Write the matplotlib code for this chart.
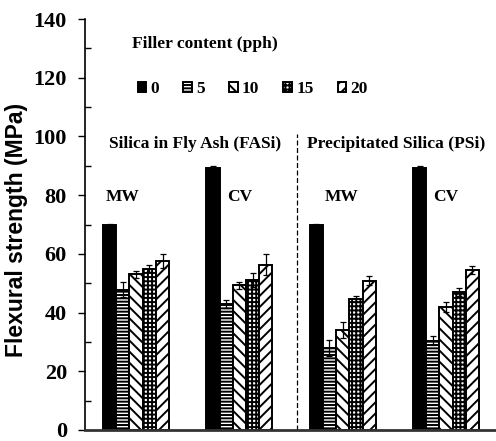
import matplotlib
matplotlib.use("Agg")
import matplotlib.pyplot as plt
import numpy as np

# Flexural strength (MPa) per filler loading, for each silica type / cure
fillers = ["0", "5", "10", "15", "20"]
groups = ["MW", "CV", "MW", "CV"]
strength = [
    [69.7, 47.8, 53.1, 55.0, 57.6],   # FASi, MW
    [89.4, 43.0, 49.3, 51.2, 56.3],   # FASi, CV
    [69.7, 28.0, 34.2, 44.7, 50.9],   # PSi, MW
    [89.4, 30.4, 41.9, 47.0, 54.4],   # PSi, CV
]
errors = [
    [0.6, 2.5, 1.2, 1.2, 2.3],
    [0.5, 1.3, 1.2, 2.4, 3.5],
    [0.6, 2.7, 2.7, 1.1, 1.4],
    [0.5, 1.5, 1.6, 1.4, 1.4],
]
hatches = ["", "-----", "\\\\\\", "++++", "///"]
colours = ["black", "white", "white", "white", "white"]

plt.rcParams["hatch.linewidth"] = 1.4
serif = "Liberation Serif"

fig = plt.figure(figsize=(4.96, 4.41), dpi=100)
ax = fig.add_axes([0.1714, 0.025, 0.8286, 0.9318])

width = 0.128
for i, row in enumerate(strength):
    for j, val in enumerate(row):
        x = i + (j - 2) * width
        ax.bar(x, val, width, color=colours[j], edgecolor="black",
               hatch=hatches[j], linewidth=1.4,
               label=fillers[j] if i == 0 else None)
        ax.errorbar(x, val, yerr=errors[i][j], color="black", lw=0.9,
                    capsize=2, capthick=0.9, zorder=4)

# group captions
label_x = [-0.13, 1.0, 1.985, 3.0]
for x, g in zip(label_x, groups):
    ax.text(x, 79.4, g, ha="center", va="center", family=serif,
            fontweight="bold", fontsize=12.5)
ax.text(0.57, 97.3, "Silica in Fly Ash (FASi)", ha="center",
        va="center", family=serif, fontweight="bold", fontsize=12.5)
ax.text(2.52, 97.3, "Precipitated Silica (PSi)", ha="center",
        va="center", family=serif, fontweight="bold", fontsize=12.6)
ax.plot([1.556, 1.556], [0, 101], color="black", lw=0.9, ls=(0, (4, 2)))

ax.text(-0.04, 131.5, "Filler content (pph)", family=serif,
        fontweight="bold", fontsize=12.6, va="center")
leg = ax.legend(loc="center left", bbox_to_anchor=(0.09, 0.829), ncol=5,
                frameon=False, handlelength=0.5, handleheight=0.5,
                handletextpad=0.25, columnspacing=1.38,
                prop={"family": serif, "weight": "bold", "size": 12.5})

ax.set_xlim(-0.494, 3.484)
ax.set_ylim(0, 140)
ax.set_yticks(np.arange(0, 141, 20))
ax.set_yticks(np.arange(10, 140, 20), minor=True)
ax.tick_params(axis="y", which="major", direction="out", length=5,
               width=1, labelsize=16, pad=8)
ax.tick_params(axis="y", which="minor", direction="in", length=4, width=1)
for lab in ax.get_yticklabels():
    lab.set_family(serif)
    lab.set_fontweight("bold")
ax.set_xticks([])
ax.spines["top"].set_visible(False)
ax.spines["right"].set_visible(False)
ax.spines["left"].set_linewidth(1.2)
ax.spines["bottom"].set_linewidth(2)
ax.spines["bottom"].set_color("#333333")
ax.set_ylabel("Flexural strength (MPa)", family="Liberation Sans",
              fontweight="bold", fontsize=16.5)
ax.yaxis.set_label_coords(-0.139, 0.487)

fig.savefig("out.png", dpi=100)
